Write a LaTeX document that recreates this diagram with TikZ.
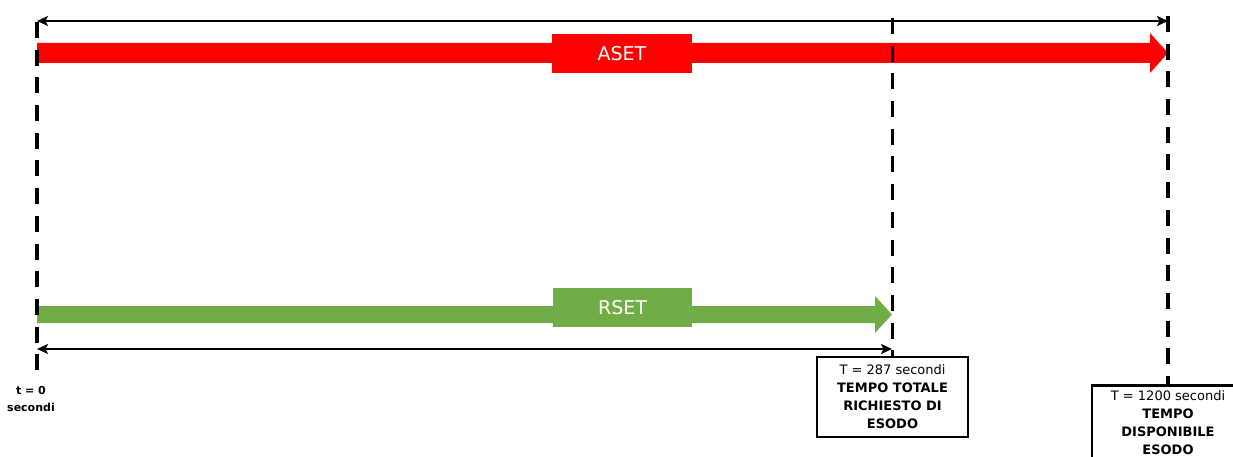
\documentclass[tikz,border=0pt]{standalone}
\usepackage{fontspec}
\setmainfont{DejaVu Sans}
\usetikzlibrary{arrows.meta}
\definecolor{asetred}{HTML}{FF0000}
\definecolor{rsetgreen}{HTML}{70AD47}
\begin{document}
\begin{tikzpicture}[x=1pt,y=-1pt,
  timeline/.style={draw=black,line width=3.8pt,dash pattern=on 16pt off 11.7pt},
  span/.style={draw=black,line width=2.8pt,{Stealth[length=11pt,width=10pt,inset=2.5pt]}-{Stealth[length=11pt,width=10pt,inset=2.5pt]}},
  tag/.style={inner sep=0pt,minimum width=140pt,minimum height=39pt,text=white,font=\fontsize{19}{21}\selectfont},
  infobox/.style={draw=black,line width=2.7pt,fill=white,align=center,inner sep=0pt,font=\fontsize{13}{18}\selectfont},
]
\useasboundingbox (0,0) rectangle (1233,457);
\begin{scope}
\clip (0,0) rectangle (1233,457);
% coordinates
\coordinate (l0) at (37,22);
\coordinate (l1) at (37,372);
\coordinate (m0) at (892.5,18);
\coordinate (m1) at (892.5,357);
\coordinate (r0) at (1168,16);
\coordinate (r1) at (1168,384);
\coordinate (topL) at (37,21);
\coordinate (topR) at (1168,21);
\coordinate (botL) at (37,349);
\coordinate (botR) at (892,349);
% red arrow
\fill[asetred] (37,43) -- (1150,43) -- (1150,33) -- (1168,53) -- (1150,73) -- (1150,63) -- (37,63) -- cycle;
\node[tag,fill=asetred] (aset) at (622,53.5) {ASET};
% green arrow
\fill[rsetgreen] (37,306) -- (875,306) -- (875,296) -- (892,314.5) -- (875,333) -- (875,323) -- (37,323) -- cycle;
\node[tag,fill=rsetgreen,minimum width=139pt] (rset) at (622.5,307.5) {RSET};
% span arrows
\draw[span] (topL) -- (topR);
\draw[span] (botL) -- (botR);
% dashed timelines
\draw[timeline] (l0) -- (l1);
\draw[timeline] (m0) -- (m1);
\draw[timeline] (r0) -- (r1);
% labels
\node[font=\fontsize{11}{17}\selectfont\bfseries,align=center,anchor=north] (t0) at (31,383) {t = 0\\secondi};
\node[infobox,minimum width=151pt,minimum height=80pt] (box1) at (892.5,397) {T = 287 secondi\\\textbf{TEMPO TOTALE}\\\textbf{RICHIESTO DI}\\\textbf{ESODO}};
\node[infobox,minimum width=152pt,minimum height=82pt,anchor=north] (box2) at (1168,384) {};
\node[font=\fontsize{13}{18}\selectfont,align=center,anchor=north] (box2text) at (1168,387) {T = 1200 secondi\\\textbf{TEMPO}\\\textbf{DISPONIBILE}\\\textbf{ESODO}};
\end{scope}
\end{tikzpicture}
\end{document}
